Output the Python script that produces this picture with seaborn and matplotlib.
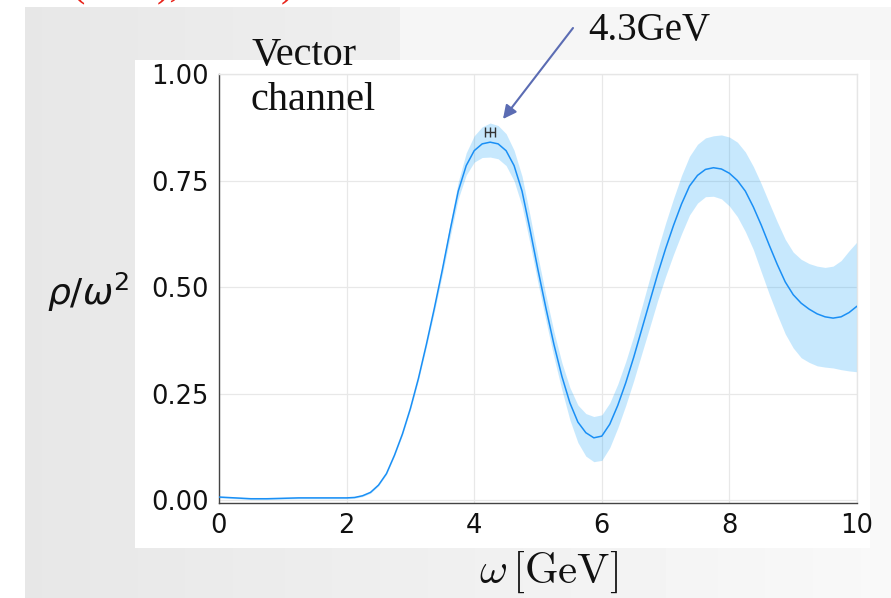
import numpy as np
import pandas as pd
import matplotlib
matplotlib.use("Agg")
import matplotlib.pyplot as plt
import seaborn as sns
from matplotlib.patches import Rectangle

# ---------------- data ----------------
omega = [0.0, 0.125, 0.25, 0.375, 0.5, 0.625, 0.75, 0.875, 1.0, 1.125, 1.25, 1.375, 1.5, 1.625,
         1.75, 1.875, 2.0, 2.125, 2.25, 2.375, 2.5, 2.625, 2.75, 2.875, 3.0, 3.125, 3.25, 3.375,
         3.5, 3.625, 3.75, 3.875, 4.0, 4.125, 4.25, 4.375, 4.5, 4.625, 4.75, 4.875, 5.0, 5.125,
         5.25, 5.375, 5.5, 5.625, 5.75, 5.875, 6.0, 6.125, 6.25, 6.375, 6.5, 6.625, 6.75, 6.875,
         7.0, 7.125, 7.25, 7.375, 7.5, 7.625, 7.75, 7.875, 8.0, 8.125, 8.25, 8.375, 8.5, 8.625,
         8.75, 8.875, 9.0, 9.125, 9.25, 9.375, 9.5, 9.625, 9.75, 9.875, 10.0]
rho_mean = [0.007, 0.006, 0.005, 0.004, 0.003, 0.003, 0.003, 0.0035, 0.004, 0.0045, 0.005, 0.005,
            0.005, 0.005, 0.005, 0.005, 0.005, 0.006, 0.010, 0.018, 0.035, 0.062, 0.105, 0.155,
            0.215, 0.285, 0.365, 0.450, 0.540, 0.635, 0.725, 0.785, 0.820, 0.836, 0.840, 0.836,
            0.820, 0.785, 0.725, 0.635, 0.540, 0.450, 0.365, 0.290, 0.228, 0.183, 0.158, 0.146,
            0.150, 0.178, 0.222, 0.275, 0.335, 0.400, 0.465, 0.530, 0.590, 0.645, 0.695, 0.737,
            0.762, 0.776, 0.780, 0.777, 0.767, 0.750, 0.725, 0.688, 0.645, 0.598, 0.553, 0.512,
            0.482, 0.462, 0.448, 0.437, 0.430, 0.427, 0.430, 0.440, 0.455]
rho_upper = [0.009, 0.008, 0.007, 0.006, 0.005, 0.005, 0.005, 0.0055, 0.006, 0.0065, 0.007, 0.007,
             0.007, 0.007, 0.007, 0.007, 0.007, 0.008, 0.012, 0.020, 0.037, 0.064, 0.107, 0.158,
             0.219, 0.290, 0.371, 0.459, 0.552, 0.651, 0.747, 0.815, 0.855, 0.876, 0.885, 0.879,
             0.860, 0.821, 0.760, 0.668, 0.571, 0.480, 0.395, 0.322, 0.264, 0.223, 0.203, 0.196,
             0.200, 0.228, 0.272, 0.325, 0.385, 0.452, 0.520, 0.587, 0.650, 0.708, 0.762, 0.807,
             0.835, 0.850, 0.855, 0.857, 0.852, 0.840, 0.817, 0.783, 0.742, 0.697, 0.653, 0.612,
             0.582, 0.565, 0.555, 0.549, 0.546, 0.549, 0.562, 0.585, 0.606]
rho_lower = [0.005, 0.004, 0.003, 0.002, 0.001, 0.001, 0.001, 0.0015, 0.002, 0.0025, 0.003, 0.003,
             0.003, 0.003, 0.003, 0.003, 0.003, 0.004, 0.008, 0.016, 0.033, 0.060, 0.103, 0.152,
             0.211, 0.280, 0.359, 0.441, 0.528, 0.619, 0.707, 0.763, 0.793, 0.804, 0.805, 0.801,
             0.785, 0.749, 0.690, 0.602, 0.509, 0.420, 0.335, 0.258, 0.188, 0.135, 0.103, 0.090,
             0.093, 0.123, 0.169, 0.222, 0.280, 0.343, 0.405, 0.468, 0.525, 0.577, 0.625, 0.669,
             0.697, 0.712, 0.713, 0.707, 0.690, 0.665, 0.630, 0.588, 0.535, 0.483, 0.435, 0.390,
             0.357, 0.334, 0.323, 0.315, 0.312, 0.310, 0.306, 0.303, 0.301]

peak_omega = [4.25]
peak_rho = [0.864]
peak_err = [0.075]

x_ticks = [0, 2, 4, 6, 8, 10]
y_ticks = [0.0, 0.25, 0.5, 0.75, 1.0]
y_tick_labels = ["0.00", "0.25", "0.50", "0.75", "1.00"]

df = pd.DataFrame({"omega": omega, "mean": rho_mean, "upper": rho_upper, "lower": rho_lower})

# ---------------- figure ----------------
sns.set_theme(style="white")
plt.rcParams["font.family"] = ["DejaVu Sans"]

W, H = 891, 598
fig = plt.figure(figsize=(W / 100, H / 100), dpi=100)
fig.patch.set_facecolor("white")

# slide-like background
bg = fig.add_axes([0, 0, 1, 1], zorder=-10)
bg.set_xlim(0, W)
bg.set_ylim(H, 0)
bg.axis("off")
xs = np.linspace(0, 1, 200)
grad = 0.905 + 0.07 * xs
img = np.tile(grad, (60, 1))
bg.imshow(img, cmap="gray", vmin=0, vmax=1, extent=[25, W, H, 7], aspect="auto", zorder=0)
bg.add_patch(Rectangle((400, 7), W - 400, 53, color="#f6f6f6", zorder=1, lw=0))
bg.add_patch(Rectangle((135, 60), 735, 488, color="white", zorder=2, lw=0))

# main axes
ax = fig.add_axes([219 / W, 1 - 503 / H, (857 - 219) / W, (503 - 74) / H])
ax.set_facecolor("white")

ax.fill_between(df["omega"], df["lower"], df["upper"], color="#009AFA", alpha=0.22, lw=0, zorder=2)
sns.lineplot(data=df, x="omega", y="mean", ax=ax, color="#1a8ff5", lw=1.1, zorder=3)
ax.errorbar(peak_omega, peak_rho, xerr=peak_err, fmt="|", color="#333333", ms=7,
            capsize=3.5, elinewidth=1.0, capthick=1.0, zorder=4)

ax.set_xlim(0, 10)
ax.set_ylim(-0.007, 1.0)
ax.set_xticks(x_ticks)
ax.set_xticklabels([str(t) for t in x_ticks])
ax.set_yticks(y_ticks)
ax.set_yticklabels(y_tick_labels)
ax.grid(True, color="#e8e8e8", lw=0.9, zorder=0)
ax.set_axisbelow(True)
ax.set_xlabel("")
ax.set_ylabel("")
for s in ["left", "bottom"]:
    ax.spines[s].set_color("#444444")
    ax.spines[s].set_linewidth(1.0)
for s in ["top", "right"]:
    ax.spines[s].set_color("#e6e6e6")
    ax.spines[s].set_linewidth(1.0)
ax.tick_params(axis="both", which="both", direction="inout", length=5, width=0.9,
               color="#444444", labelsize=18.5, labelcolor="#111111", pad=5)

# axis labels
fig.text(88 / W, 1 - 292 / H, r"$\rho/\omega^2$", fontsize=26, ha="center", va="center",
         color="#111111", math_fontfamily="dejavusans")
fig.text(549 / W, 1 - 572 / H, r"$\omega\,[\mathrm{GeV}]$", fontsize=31, ha="center", va="center",
         color="#111111", math_fontfamily="cm")

# annotations
serif = ["Liberation Serif", "DejaVu Serif"]
fig.text(251 / W, 1 - 65 / H, "Vector", fontsize=29, family=serif, va="baseline", ha="left", color="#111111")
fig.text(251 / W, 1 - 110 / H, "channel", fontsize=29, family=serif, va="baseline", ha="left", color="#111111")
fig.text(588 / W, 1 - 40 / H, "4.3GeV", fontsize=28, family=serif, va="baseline", ha="left", color="#111111")
ax.annotate("", xy=(503 / W, 1 - 119 / H), xycoords="figure fraction",
            xytext=(573 / W, 1 - 28 / H), textcoords="figure fraction",
            arrowprops=dict(arrowstyle="-|>", color="#5b6cb3", lw=1.5, mutation_scale=20,
                            shrinkA=0, shrinkB=0))

# cut-off red citation fragments at the very top (only their descenders show, as in the reference)
for xp, s in [(71, "("), (157, "),"), (281, ")")]:
    fig.text(xp / W, 1 + 4 / H, s, fontsize=29, family=serif, color="#e8231a",
             va="baseline", ha="left")

fig.savefig("out.png", dpi=100, facecolor=fig.get_facecolor())
